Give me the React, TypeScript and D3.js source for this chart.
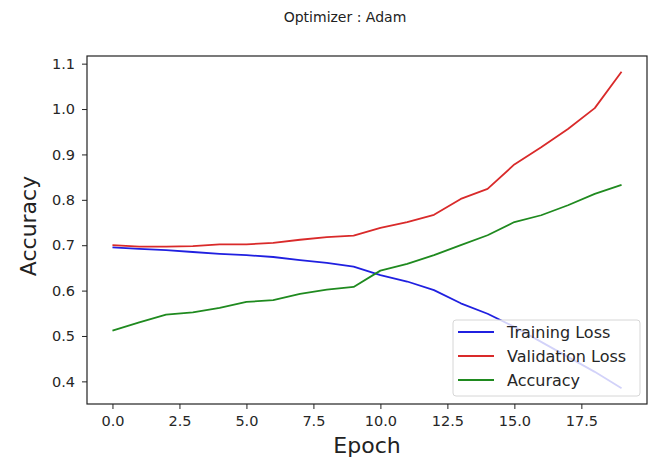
import React, { useEffect, useRef } from 'react';
import * as d3 from 'd3';

const epochs = [0, 1, 2, 3, 4, 5, 6, 7, 8, 9, 10, 11, 12, 13, 14, 15, 16, 17, 18, 19];
const trainingLoss = [0.695, 0.692, 0.689, 0.685, 0.681, 0.678, 0.674, 0.667, 0.661, 0.653, 0.634, 0.620, 0.601, 0.572, 0.549, 0.520, 0.487, 0.454, 0.421, 0.385];
const validationLoss = [0.700, 0.697, 0.697, 0.698, 0.702, 0.702, 0.705, 0.712, 0.718, 0.721, 0.738, 0.751, 0.767, 0.802, 0.824, 0.878, 0.916, 0.956, 1.002, 1.082];
const accuracy = [0.512, 0.530, 0.547, 0.552, 0.562, 0.575, 0.579, 0.593, 0.602, 0.608, 0.644, 0.659, 0.678, 0.700, 0.722, 0.751, 0.766, 0.788, 0.813, 0.833];
const xTicks = [0, 2.5, 5, 7.5, 10, 12.5, 15, 17.5];
const yTicks = [0.4, 0.5, 0.6, 0.7, 0.8, 0.9, 1.0, 1.1];

const seriesNames = ['Training Loss', 'Validation Loss', 'Accuracy'];
const seriesColors = ['#2020e0', '#d92a2a', '#1f8a1f'];

const W = 648;
const H = 459;
const FONT = 'DejaVu Sans, sans-serif';

const drawChart = (node: SVGSVGElement) => {
  const svg = d3.select(node);
  svg.selectAll('*').remove();

  const plot = { left: 87, right: 647, top: 56, bottom: 404 };

  // matplotlib-style 5% margins
  const xExt = d3.extent(epochs) as [number, number];
  const xPad = (xExt[1] - xExt[0]) * 0.05;
  const all = [...trainingLoss, ...validationLoss, ...accuracy];
  const yMin = d3.min(all) as number;
  const yMax = d3.max(all) as number;
  const yPad = (yMax - yMin) * 0.05;

  const x = d3.scaleLinear()
    .domain([xExt[0] - xPad, xExt[1] + xPad])
    .range([plot.left, plot.right]);
  const y = d3.scaleLinear()
    .domain([yMin - yPad, yMax + yPad])
    .range([plot.bottom, plot.top]);

  svg.append('rect')
    .attr('width', W)
    .attr('height', H)
    .attr('fill', '#fff');

  svg.append('text')
    .attr('x', 345)
    .attr('y', 22)
    .attr('text-anchor', 'middle')
    .attr('font-family', FONT)
    .attr('font-size', 14)
    .attr('fill', '#222')
    .text('Optimizer : Adam');

  const series = [trainingLoss, validationLoss, accuracy];
  const line = d3.line<number>()
    .x((d, i) => x(epochs[i]))
    .y(d => y(d));

  series.forEach((s, k) => {
    svg.append('path')
      .datum(s)
      .attr('d', line)
      .attr('fill', 'none')
      .attr('stroke', seriesColors[k])
      .attr('stroke-width', 1.8)
      .attr('stroke-linejoin', 'round');
  });

  // axes
  const xAxis = d3.axisBottom(x)
    .tickValues(xTicks)
    .tickFormat(d3.format('.1f'))
    .tickSize(5)
    .tickPadding(7);
  const gx = svg.append('g')
    .attr('transform', `translate(0,${plot.bottom})`)
    .call(xAxis);
  gx.select('.domain').remove();

  const yAxis = d3.axisLeft(y)
    .tickValues(yTicks)
    .tickFormat(d3.format('.1f'))
    .tickSize(5)
    .tickPadding(7);
  const gy = svg.append('g')
    .attr('transform', `translate(${plot.left},0)`)
    .call(yAxis);
  gy.select('.domain').remove();

  [gx, gy].forEach(g => {
    g.selectAll('text')
      .attr('font-family', FONT)
      .attr('font-size', 14.5)
      .attr('fill', '#262626');
    g.selectAll('line')
      .attr('stroke', '#222')
      .attr('stroke-width', 1);
  });

  svg.append('rect')
    .attr('x', plot.left)
    .attr('y', plot.top)
    .attr('width', plot.right - plot.left)
    .attr('height', plot.bottom - plot.top)
    .attr('fill', 'none')
    .attr('stroke', '#222')
    .attr('stroke-width', 1.2);

  svg.append('text')
    .attr('x', (plot.left + plot.right) / 2)
    .attr('y', 453)
    .attr('text-anchor', 'middle')
    .attr('font-family', FONT)
    .attr('font-size', 22)
    .attr('fill', '#222')
    .text('Epoch');

  svg.append('text')
    .attr('transform', `translate(36,${(plot.top + plot.bottom) / 2 - 4}) rotate(-90)`)
    .attr('text-anchor', 'middle')
    .attr('font-family', FONT)
    .attr('font-size', 22)
    .attr('fill', '#222')
    .text('Accuracy');

  // legend
  const lg = svg.append('g').attr('transform', 'translate(453,320)');
  lg.append('rect')
    .attr('width', 187)
    .attr('height', 76)
    .attr('rx', 3)
    .attr('fill', '#fff')
    .attr('fill-opacity', 0.8)
    .attr('stroke', '#d6d6d6');
  seriesNames.forEach((name, k) => {
    const row = lg.append('g').attr('transform', `translate(0,${12 + k * 24})`);
    row.append('line')
      .attr('x1', 5)
      .attr('x2', 41)
      .attr('stroke', seriesColors[k])
      .attr('stroke-width', 1.8);
    row.append('text')
      .attr('x', 54)
      .attr('y', 5.5)
      .attr('font-family', FONT)
      .attr('font-size', 16)
      .attr('fill', '#262626')
      .text(name);
  });
};

export default function App() {
  const ref = useRef<SVGSVGElement>(null);

  useEffect(() => {
    if (ref.current) drawChart(ref.current);
  }, []);

  return (
    <svg
      ref={ref}
      width={W}
      height={H}
      style={{ position: 'absolute', left: 0, top: 0, display: 'block' }}
    />
  );
}
